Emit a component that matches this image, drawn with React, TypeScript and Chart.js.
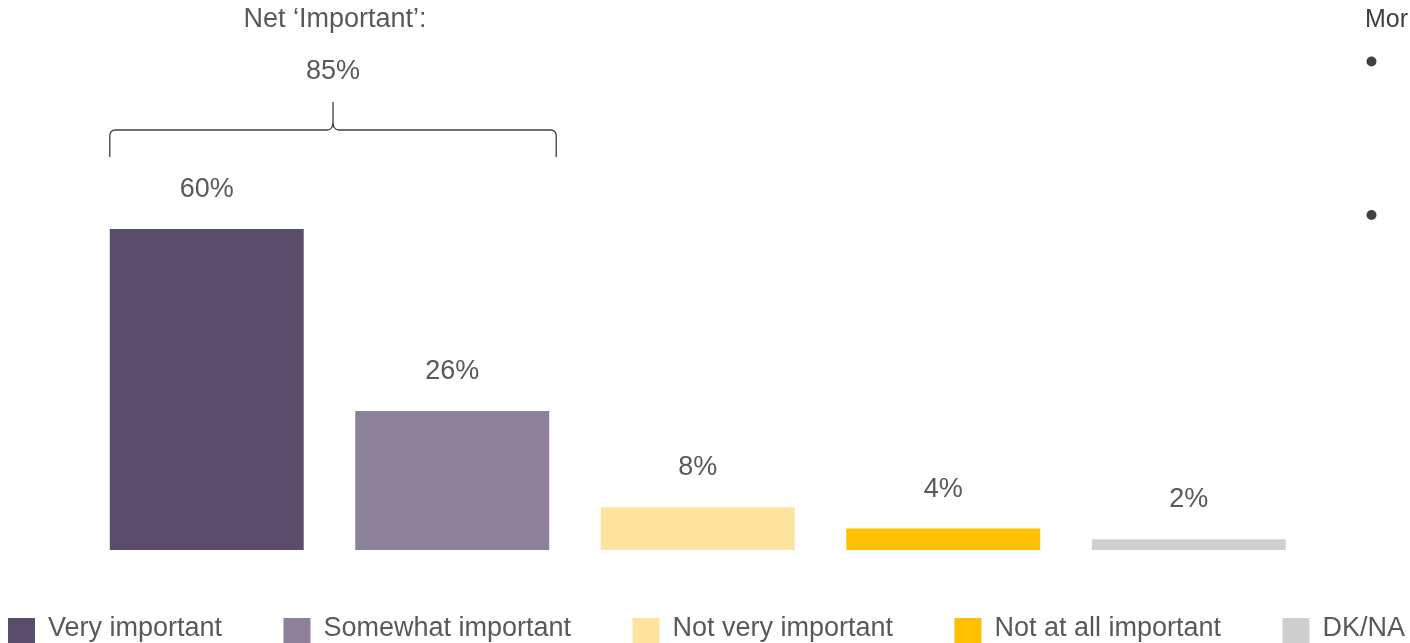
import React, { useEffect, useRef } from "react";
import { Chart, registerables } from "chart.js";

Chart.register(...registerables);

const categories = ["Very important", "Somewhat important", "Not very important", "Not at all important", "DK/NA"];
const values = [60, 26, 8, 4, 2];
const colors = ["#594D6B", "#8B8199", "#FDE39D", "#FFC000", "#D0CECF"];
const netLabel = "Net \u2018Important\u2019:";
const netValue = "85%";
const sideTitle = "Mor";

const FONT = '"Liberation Sans", Arial, Helvetica, sans-serif';

const overlayPlugin = {
  id: "overlay",
  afterDraw(chart: any) {
    const ctx = chart.ctx as CanvasRenderingContext2D;
    const meta = chart.getDatasetMeta(0);
    const W = chart.width;
    ctx.save();

    // value labels
    ctx.font = `27px ${FONT}`;
    ctx.fillStyle = "#595959";
    ctx.textAlign = "center";
    ctx.textBaseline = "alphabetic";
    meta.data.forEach((bar: any, i: number) => {
      ctx.fillText(values[i] + "%", bar.x, bar.y - 32);
    });

    // brace over first two bars
    const b0: any = meta.data[0];
    const b1: any = meta.data[1];
    const L = b0.x - b0.width / 2;
    const R = b1.x + b1.width / 2 + 7;
    const mid = (L + R) / 2;
    const yLine = b0.y - 99;
    const yEnd = b0.y - 72;
    const yTip = b0.y - 127;
    const r = 6;
    ctx.strokeStyle = "#404040";
    ctx.lineWidth = 1.3;
    ctx.beginPath();
    ctx.moveTo(L, yEnd);
    ctx.lineTo(L, yLine + r);
    ctx.quadraticCurveTo(L, yLine, L + r, yLine);
    ctx.lineTo(mid - r, yLine);
    ctx.quadraticCurveTo(mid, yLine, mid, yLine - r - 2);
    ctx.lineTo(mid, yTip);
    ctx.moveTo(mid, yLine - r - 2);
    ctx.quadraticCurveTo(mid, yLine, mid + r, yLine);
    ctx.lineTo(R - r, yLine);
    ctx.quadraticCurveTo(R, yLine, R, yLine + r);
    ctx.lineTo(R, yEnd);
    ctx.stroke();

    // net label
    ctx.fillStyle = "#595959";
    ctx.font = `27px ${FONT}`;
    ctx.textAlign = "center";
    ctx.fillText(netLabel, mid + 2, 27);
    ctx.fillText(netValue, mid, 79);

    // cut-off side panel
    ctx.textAlign = "left";
    ctx.fillStyle = "#404040";
    ctx.font = `25px ${FONT}`;
    ctx.fillText(sideTitle, 1365, 27);
    ctx.beginPath();
    ctx.arc(1371.5, 61.5, 5, 0, Math.PI * 2);
    ctx.arc(1371.5, 215, 5, 0, Math.PI * 2);
    ctx.fill();

    // legend
    ctx.font = `27px ${FONT}`;
    const box = 27;
    const gapBT = 13;
    const startX = 8;
    const endX = 1405;
    const widths = categories.map((c) => ctx.measureText(c).width);
    const itemsW = widths.reduce((a, w) => a + box + gapBT + w, 0);
    const gap = (endX - startX - itemsW) / (categories.length - 1);
    let x = startX;
    categories.forEach((c, i) => {
      ctx.fillStyle = colors[i];
      ctx.fillRect(x, 618, box, box);
      ctx.fillStyle = "#595959";
      ctx.textAlign = "left";
      ctx.fillText(c, x + box + gapBT, 636);
      x += box + gapBT + widths[i] + gap;
    });

    ctx.restore();
  },
};

export default function App() {
  const ref = useRef<HTMLCanvasElement>(null);
  useEffect(() => {
    document.body.style.margin = "0";
    const chart = new Chart(ref.current!, {
      type: "bar",
      data: {
        labels: categories,
        datasets: [
          {
            data: values,
            backgroundColor: colors,
            borderWidth: 0,
            categoryPercentage: 1,
            barPercentage: 0.79,
          },
        ],
      },
      options: {
        responsive: false,
        animation: false,
        layout: { padding: { left: 84, right: 98.5, top: 122, bottom: 93 } },
        plugins: { legend: { display: false }, tooltip: { enabled: false } },
        scales: {
          x: { display: false, grid: { display: false } },
          y: { display: false, min: 0, max: 80, grid: { display: false } },
        },
      },
      plugins: [overlayPlugin],
    });
    return () => chart.destroy();
  }, []);
  return (
    <div style={{ position: "fixed", left: 0, top: 0, width: 1410, height: 643, background: "#fff" }}>
      <canvas ref={ref} width={1410} height={643} style={{ width: 1410, height: 643 }} />
    </div>
  );
}
